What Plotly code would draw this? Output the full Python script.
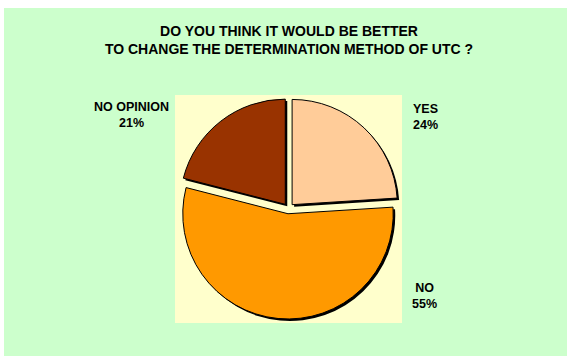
import plotly.graph_objects as go

# Data
labels = ["YES", "NO", "NO OPINION"]
values = [24, 55, 21]
colors = ["#FFCC99", "#FF9900", "#993300"]
title_lines = ["DO YOU THINK IT WOULD BE BETTER", "TO CHANGE THE DETERMINATION METHOD OF UTC ?"]

W, H = 567, 356
L, R, T, B = 175, 163, 95, 32
pw = W - L - R
ph = H - T - B
off = 2 / pw
s = 3 / pw  # shrink of pie domain on each side

def px(x):
    return (x - L) / pw

def py(y):
    return 1 - (y - T) / ph

pull = [0.05] * len(values)

fig = go.Figure()
# shadow pie
fig.add_trace(go.Pie(
    labels=labels, values=values, sort=False, direction="clockwise", rotation=0,
    pull=pull, marker=dict(colors=["#000000"] * len(values), line=dict(width=0)),
    textinfo="none", hoverinfo="skip", showlegend=False,
    domain=dict(x=[off + s, 1 - s], y=[s, 1 - off - s]),
))
# main pie
fig.add_trace(go.Pie(
    labels=labels, values=values, sort=False, direction="clockwise", rotation=0,
    pull=pull, marker=dict(colors=colors, line=dict(color="#000000", width=1)),
    textinfo="none", showlegend=False,
    domain=dict(x=[s, 1 - off - s], y=[off + s, 1 - s]),
))

total = sum(values)
label_pos = {"YES": (425, 117.5), "NO": (424, 296), "NO OPINION": (131.7, 115)}
annotations = []
for lab, v in zip(labels, values):
    x, y = label_pos[lab]
    annotations.append(dict(
        x=px(x), y=py(y), xref="paper", yref="paper", showarrow=False,
        xanchor="center", yanchor="middle", align="center",
        text=f"<b>{lab}<br>{round(100 * v / total)}%</b>",
        font=dict(family="Liberation Sans, Arial", size=12.5, color="#000000"),
    ))

shapes = [
    dict(type="rect", xref="paper", yref="paper", layer="below",
         x0=px(4), x1=px(W + 5), y0=py(H + 5), y1=py(8),
         fillcolor="#CCFFCC", line=dict(width=0)),
    dict(type="rect", xref="paper", yref="paper", layer="below",
         x0=px(175), x1=px(402), y0=py(323), y1=py(95),
         fillcolor="#FFFFCC", line=dict(width=0)),
]

fig.update_layout(
    width=W, height=H,
    margin=dict(l=L, r=R, t=T, b=B),
    paper_bgcolor="#FFFFFF",
    title=dict(
        text="<b>" + "<br>".join(title_lines) + "</b>",
        x=289 / W, xanchor="center", xref="container",
        y=1 - 35.5 / H, yanchor="middle", yref="container",
        font=dict(family="Liberation Sans, Arial", size=14, color="#000000"),
    ),
    annotations=annotations,
    shapes=shapes,
)

fig.write_html("out.html", config={"displayModeBar": False},
               post_script="document.body.style.margin='0';document.body.style.padding='0';")
